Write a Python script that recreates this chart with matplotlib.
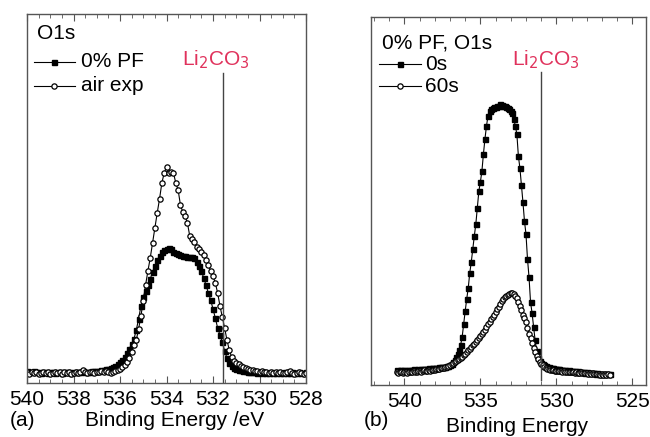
import numpy as np
import matplotlib
matplotlib.use("Agg")
import matplotlib.pyplot as plt
from matplotlib.ticker import MultipleLocator

plt.rcParams['font.family'] = ['Liberation Sans', 'DejaVu Sans']

# panel (a): O1s, 0.1 eV step from 540.0 down to 528.0
a_start = 540.0
a_pf0 = [2, 1, 1, 2, 1, 1, 0, 1, 1, 0, 1, 1, 0, 1, 1, 0, 1, 1, 1, 0,
         1, 1, 1, 1, 2, 1, 1, 1, 2, 2, 2, 2, 3, 3, 4,
         4, 5, 6, 7, 9, 11, 13, 16, 20, 24, 29, 34, 43, 54, 67, 76, 82, 88, 94, 101,
         107, 113, 117, 121, 123, 124, 125, 124, 121, 120, 119, 118, 117, 117, 116, 116,
         116, 115, 111, 107, 102, 95, 88, 80, 73, 64, 55, 45, 38, 31, 22, 15, 10, 7, 5,
         4, 3, 3, 2, 2, 1, 1, 1, 1, 0, 1, 0, 1, 0, 0, 1, 0, 0, 1, 0, 0, 1, 0, 0, 1, 0,
         0, 1, 0, 0, 1]
a_air = [1, -1, 1, 0, 1, -1, 0, 1, 0, 1, -1, 0, 1, 0, 1, -1, 1, 0, 1, -1,
         0, 1, 0, 1, 3, 1, 0, 1, 1, 0, 1, 1, 2, 1, 2, 1, 0,
         1, 2, 3, 4, 6, 8, 11, 15, 21, 28, 33, 44, 57, 72, 88, 102, 115, 130, 145, 160,
         174, 190, 200, 206, 200, 201, 200, 190, 183, 168, 161, 157, 150, 137, 134, 131,
         126, 124, 121, 118, 113, 108, 102, 97, 90, 80, 67, 56, 45, 33, 23, 16, 12, 10,
         9, 7, 6, 5, 4, 3, 3, 2, 2, 1, 2, 1, 1, 0, 1, 0, 1, 0, 1, 0, 0, 1, 2, 0, -1, 0,
         1, 0, -1, 0]

# panel (b): 0% PF O1s, 0.1 eV step from 540.5 down to 526.5
b_start = 540.5
b_0s = [4, 3, 4, 4, 3, 4, 4, 3, 4, 4, 4, 5, 4, 4, 5, 4, 5, 5, 5, 5,
        5, 6, 5, 6, 6, 6, 6, 6, 7, 7, 7, 7, 7, 8, 8, 9, 10, 12, 14, 17,
        20, 24, 29, 37, 50, 63, 75, 86, 101, 112, 125, 138, 150, 166, 183, 192, 203, 220, 235, 248,
        258, 263, 265, 266, 267, 267, 268, 268, 270, 269, 268, 268, 267, 266, 265, 263, 261, 255, 248, 240,
        218, 206, 189, 172, 153, 140, 115, 97, 72, 61, 47, 34, 23, 16, 13, 11, 10, 9, 8, 7,
        7, 6, 6, 6, 5, 5, 5, 5, 4, 4, 4, 4, 3, 4, 3, 3, 3, 3, 2, 3,
        2, 2, 2, 2, 1, 2, 1, 1, 1, 1, 1, 0, 1, 0, 0, 0, 0, 0, 0, 0, 0]
b_60s = [2, 1, 2, 2, 1, 2, 2, 1, 2, 2, 2, 3, 2, 2, 3, 3, 2, 3, 4, 3,
         3, 4, 3, 4, 4, 4, 5, 5, 5, 6, 6, 6, 7, 7, 8, 9, 10, 11, 12, 13,
         14, 15, 16, 17, 19, 20, 22, 24, 25, 27, 29, 30, 32, 34, 36, 38, 40, 42, 44, 47,
         50, 52, 55, 57, 59, 62, 65, 67, 70, 73, 75, 77, 78, 79, 80, 81, 81, 80, 78, 76,
         72, 68, 64, 59, 56, 52, 46, 40, 36, 31, 26, 22, 18, 15, 12, 10, 9, 7, 6, 5,
         5, 4, 4, 4, 3, 3, 3, 3, 3, 2, 3, 2, 2, 2, 2, 2, 2, 1, 2, 1,
         1, 2, 1, 1, 1, 1, 0, 1, 0, 1, 0, 0, 0, 0, -1, 0, -1, 0, -1, 0, -1]

li2co3_a = 531.55
li2co3_b = 531.0

assert len(a_pf0) == 121 and len(a_air) == 121, (len(a_pf0), len(a_air))
assert len(b_0s) == 141 and len(b_60s) == 141, (len(b_0s), len(b_60s))

ea = a_start - 0.1 * np.arange(len(a_pf0))
eb = b_start - 0.1 * np.arange(len(b_0s))

red = '#e0325c'
spine_c = '#555555'
fs = 15

fig = plt.figure(figsize=(6.5, 4.37), dpi=100)
ax1 = fig.add_axes([27/650, 1-383/437, 279/650, 369/437])
ax2 = fig.add_axes([371/650, 1-385/437, 275/650, 368/437])

sq = dict(color='black', lw=0.8, marker='s', ms=3.6, mfc='black', mec='black')
ci = dict(color='black', lw=0.8, marker='o', ms=3.8, mfc='white', mec='black', mew=0.9)

ax1.plot(ea, a_pf0, **sq)
ax1.plot(ea, a_air, **ci)
ax1.set_xlim(540, 528)
ax1.set_ylim(-10, 359)
ax1.plot([li2co3_a, li2co3_a], [-10, 300], color='#444444', lw=1.0)
ax1.xaxis.set_major_locator(MultipleLocator(2))
ax1.xaxis.set_minor_locator(MultipleLocator(0.5))

ax2.plot(eb, b_0s, **sq)
ax2.plot(eb, b_60s, **ci)
ax2.set_xlim(542.2, 524.1)
ax2.set_ylim(-11, 357)
ax2.plot([li2co3_b, li2co3_b], [-6, 302], color='#444444', lw=1.0)
ax2.xaxis.set_major_locator(MultipleLocator(5))
ax2.xaxis.set_minor_locator(MultipleLocator(1))

for ax in (ax1, ax2):
    ax.set_yticks([])
    for s in ax.spines.values():
        s.set_color(spine_c)
        s.set_linewidth(1.0)
    ax.tick_params(axis='x', which='both', direction='in', top=True, bottom=True,
                   color=spine_c, labelsize=fs, pad=5)
    ax.tick_params(axis='x', which='major', length=5)
    ax.tick_params(axis='x', which='minor', length=3)

# legend rows: sample line with one marker, then label (axes fraction)
def legend_row(ax, x0, x1, y, kind, label, tx):
    ax.plot([x0, x1], [y, y], color='black', lw=0.8, transform=ax.transAxes)
    st = sq if kind == 's' else ci
    ax.plot([(x0 + x1) / 2], [y], transform=ax.transAxes, ls='none',
            **{k: v for k, v in st.items() if k not in ('lw', 'color')})
    ax.text(tx, y, label, transform=ax.transAxes, fontsize=fs, va='center', ha='left')

ax1.text(0.035, 0.948, 'O1s', transform=ax1.transAxes, fontsize=fs, va='center')
legend_row(ax1, 0.025, 0.172, 0.870, 's', '0% PF', 0.195)
legend_row(ax1, 0.025, 0.172, 0.806, 'o', 'air exp', 0.195)

ax2.text(0.04, 0.93, '0% PF, O1s', transform=ax2.transAxes, fontsize=fs, va='center')
legend_row(ax2, 0.03, 0.18, 0.871, 's', '0s', 0.197)
legend_row(ax2, 0.03, 0.18, 0.812, 'o', '60s', 0.197)

fig.text(216/650, 1-60/437, r'Li$_2$CO$_3$', color=red, fontsize=fs,
         ha='center', va='center')
fig.text(546/650, 1-60/437, r'Li$_2$CO$_3$', color=red, fontsize=fs,
         ha='center', va='center')

fig.text(10/650, 1-421/437, '(a)', fontsize=fs, va='center', ha='left')
fig.text(175/650, 1-421/437, 'Binding Energy /eV', fontsize=fs, va='center', ha='center')
fig.text(364/650, 1-421/437, '(b)', fontsize=fs, va='center', ha='left')
fig.text(517/650, 1-426/437, 'Binding Energy', fontsize=fs, va='center', ha='center')

fig.savefig('out.png', dpi=100)
